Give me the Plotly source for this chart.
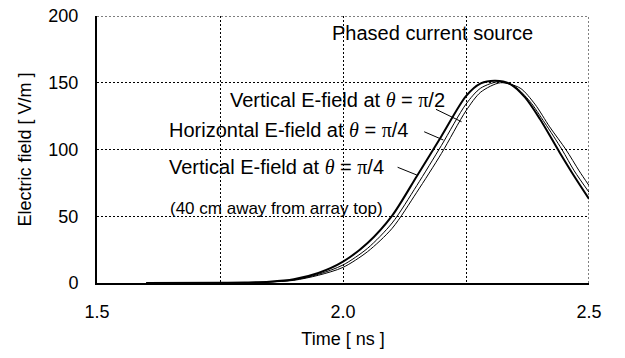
import plotly.graph_objects as go

# Time [ns] samples
t_vert_pi4 = [1.60, 1.75, 1.80, 1.85, 1.90, 1.95, 2.00, 2.05, 2.10, 2.15, 2.20, 2.25, 2.28, 2.31, 2.34, 2.37, 2.40, 2.44, 2.47, 2.50]
e_vert_pi4 = [0.0, 0.1, 0.4, 1.0, 2.8, 7.5, 16.0, 30.0, 50.5, 80.0, 110.0, 140.0, 149.5, 151.5, 149.0, 139.0, 123.0, 98.0, 80.0, 63.0]

t_horiz_pi4 = [1.60, 1.75, 1.80, 1.85, 1.90, 1.95, 2.00, 2.05, 2.10, 2.15, 2.20, 2.25, 2.28, 2.32, 2.35, 2.38, 2.41, 2.445, 2.47, 2.50]
e_horiz_pi4 = [0.0, 0.1, 0.3, 0.8, 2.3, 6.5, 13.5, 26.0, 45.0, 73.0, 103.0, 134.0, 146.0, 151.0, 147.0, 136.0, 120.0, 100.0, 84.0, 68.0]

t_vert_pi2 = [1.60, 1.75, 1.80, 1.85, 1.90, 1.95, 2.00, 2.05, 2.10, 2.15, 2.20, 2.25, 2.28, 2.32, 2.36, 2.39, 2.42, 2.453, 2.48, 2.50]
e_vert_pi2 = [0.0, 0.1, 0.3, 0.7, 2.0, 5.8, 11.7, 23.5, 41.0, 68.0, 97.0, 129.0, 143.0, 150.0, 146.0, 134.0, 117.0, 100.0, 84.0, 73.0]

x_tickvals = [1.5, 1.75, 2.0, 2.25, 2.5]
x_ticktext = ["1.5", "", "2.0", "", "2.5"]
y_tickvals = [0, 50, 100, 150, 200]
x_range = [1.5, 2.5]
y_range = [0, 200]

FONT = "Liberation Sans, Arial, sans-serif"
SERIF = "Liberation Serif"
DOT = "2px,2px"

fig = go.Figure()
fig.add_trace(go.Scatter(x=t_vert_pi2, y=e_vert_pi2, mode="lines",
                         line=dict(color="black", width=1, shape="spline", smoothing=0.8)))
fig.add_trace(go.Scatter(x=t_horiz_pi4, y=e_horiz_pi4, mode="lines",
                         line=dict(color="black", width=1, shape="spline", smoothing=0.8)))
fig.add_trace(go.Scatter(x=t_vert_pi4, y=e_vert_pi4, mode="lines",
                         line=dict(color="black", width=2, shape="spline", smoothing=0.8)))

def th(s):
    return ('%s<span style="font-family:%s"><i>θ</i></span> = '
            '<span style="font-family:%s">π</span>%s') % (s[0], SERIF, SERIF, s[1])

ann = [
    dict(x=1.974, y=187, text="Phased current source", size=20),
    dict(x=1.766, y=137.1, text=th(("Vertical E-field at ", "/2")), size=20),
    dict(x=1.643, y=114.6, text=th(("Horizontal E-field at ", "/4")), size=20),
    dict(x=1.643, y=87.1, text=th(("Vertical E-field at ", "/4")), size=20),
    dict(x=1.644, y=56.0, text="(40 cm away from array top)", size=17),
]
for a in ann:
    fig.add_annotation(x=a["x"], y=a["y"], xref="x", yref="y", text=a["text"],
                       showarrow=False, xanchor="left", yanchor="middle",
                       font=dict(family=FONT, size=a["size"], color="black"))

leaders = [
    (2.189, 130.1, 2.241, 120.8),
    (2.165, 113.3, 2.204, 107.1),
    (2.111, 86.7, 2.150, 80.9),
]
for x0, y0, x1, y1 in leaders:
    fig.add_shape(type="line", x0=x0, y0=y0, x1=x1, y1=y1, xref="x", yref="y",
                  line=dict(color="black", width=1))

# dotted frame on top and right edges (grid lines at range ends)
fig.add_shape(type="line", x0=x_range[0], x1=x_range[1], y0=y_range[1], y1=y_range[1],
              xref="x", yref="y", line=dict(color="black", width=1, dash=DOT))
fig.add_shape(type="line", x0=x_range[1], x1=x_range[1], y0=y_range[0], y1=y_range[1],
              xref="x", yref="y", line=dict(color="black", width=1, dash=DOT))

fig.update_layout(
    width=625, height=358,
    margin=dict(l=97, r=36, t=16, b=75),
    paper_bgcolor="white", plot_bgcolor="white",
    showlegend=False,
    font=dict(family=FONT, size=18, color="black"),
)
fig.update_xaxes(range=x_range, tickvals=x_tickvals, ticktext=x_ticktext,
                 showgrid=True, gridcolor="black", gridwidth=1, griddash=DOT,
                 showline=True, linecolor="black", linewidth=2, ticks="",
                 zeroline=False, ticklabelstandoff=11, automargin=False,
                 title=dict(text="Time [ ns ]", standoff=12, font=dict(size=18)))
fig.update_yaxes(range=y_range, tickvals=y_tickvals,
                 showgrid=True, gridcolor="black", gridwidth=1, griddash=DOT,
                 showline=True, linecolor="black", linewidth=2, ticks="",
                 zeroline=False, ticklabelstandoff=13, automargin=False,
                 title=dict(text="Electric field [ V/m ]", standoff=12, font=dict(size=18)))

fig.write_html("out.html")
